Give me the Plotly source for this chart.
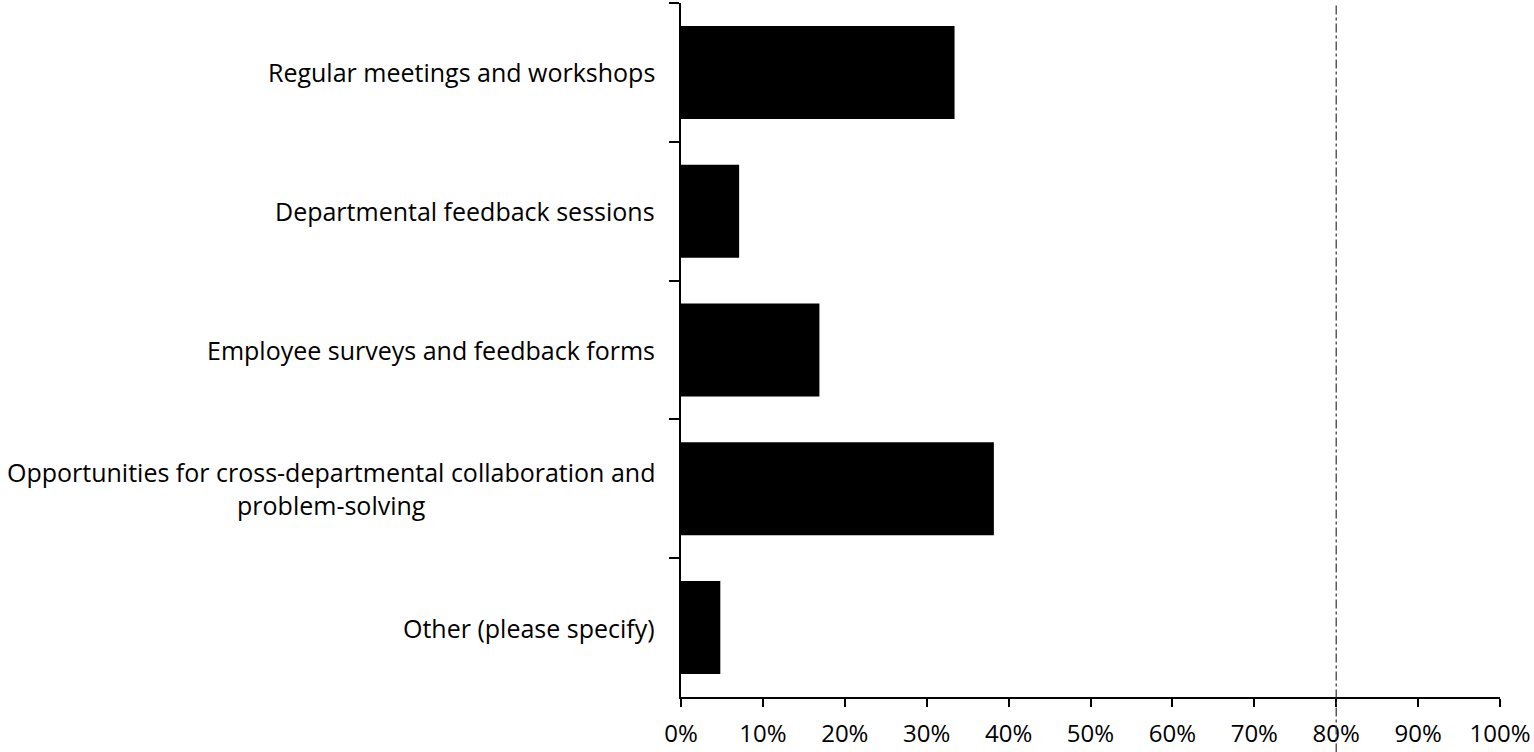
import plotly.graph_objects as go

categories = [
    "Regular meetings and workshops",
    "Departmental feedback sessions",
    "Employee surveys and feedback forms",
    "Opportunities for cross-departmental collaboration and<br>problem-solving",
    "Other (please specify)",
]
values = [0.334, 0.071, 0.169, 0.382, 0.048]
x_ticks = [0, 0.1, 0.2, 0.3, 0.4, 0.5, 0.6, 0.7, 0.8, 0.9, 1.0]
x_ticklabels = ["0%", "10%", "20%", "30%", "40%", "50%", "60%", "70%", "80%", "90%", "100%"]
ref_line = 0.8

FONT = "Open Sans"
FS_Y = 25
FS_X = 24

fig = go.Figure()
fig.add_trace(go.Bar(
    x=values, y=categories, orientation="h",
    marker=dict(color="black", line=dict(width=0)),
    showlegend=False,
))

for c in categories:
    fig.add_annotation(
        x=0, xref="paper", y=c, yref="y",
        text=c, showarrow=False, xanchor="right", yanchor="middle",
        xshift=-24, align="center",
        font=dict(family=FONT, size=FS_Y, color="black"),
    )

fig.add_shape(
    type="line", xref="x", yref="paper",
    x0=ref_line, x1=ref_line, y0=-0.08, y1=1.0,
    line=dict(color="#333333", width=1.2, dash="dashdot"),
)

fig.update_layout(
    width=1534, height=752,
    margin=dict(l=681, r=32, t=3, b=53),
    paper_bgcolor="white", plot_bgcolor="white",
    bargap=0.33,
    font=dict(family=FONT, size=FS_X, color="black"),
    xaxis=dict(
        range=[0, 1.0], tickvals=x_ticks, ticktext=x_ticklabels,
        showgrid=False, zeroline=False, showline=True, linecolor="black", linewidth=2,
        ticks="outside", ticklen=8, tickwidth=2, tickcolor="black",
        ticklabelstandoff=6,
        tickfont=dict(family=FONT, size=FS_X, color="black"),
    ),
    yaxis=dict(
        categoryorder="array", categoryarray=categories, autorange="reversed",
        showgrid=False, zeroline=False, showline=True, linecolor="black", linewidth=2,
        ticks="outside", ticklen=10, tickwidth=2, tickcolor="black",
        tickson="boundaries", showticklabels=False,
    ),
)

fig.write_html(
    "out.html",
    config={"displayModeBar": False},
    post_script="document.body.style.margin='0';document.body.style.padding='0';",
)
